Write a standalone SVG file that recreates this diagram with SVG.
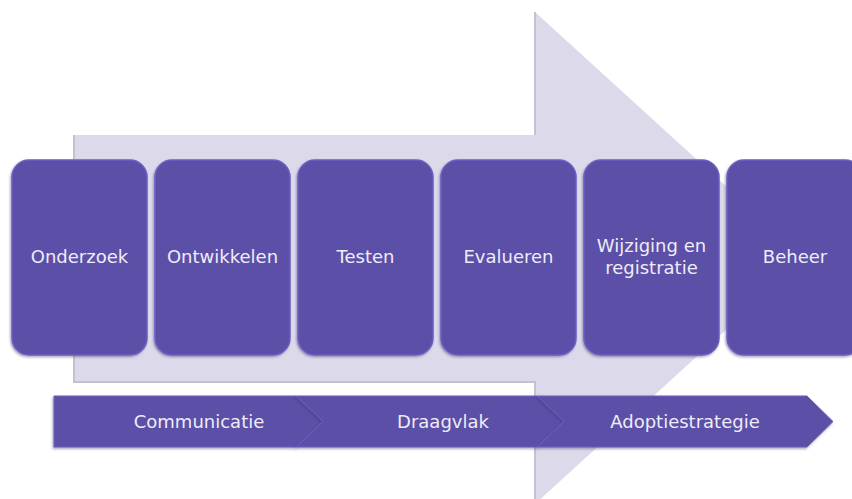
<svg xmlns="http://www.w3.org/2000/svg" width="852" height="499" viewBox="0 0 852 499">
  <style>
    .box { fill: #5c4fa8; stroke: #6b5fc2; stroke-width: 1.5; filter: url(#sh); }
    .chev { fill: #5c4fa8; stroke: #6b5fc2; stroke-width: 1; filter: url(#sh); }
    .lbl { font-family: "DejaVu Sans", "Liberation Sans", sans-serif; font-size: 18px; fill: #eeecf7; text-anchor: middle; }
  </style>
  <defs>
    <filter id="sh" x="-10%" y="-10%" width="120%" height="120%">
      <feDropShadow dx="-1" dy="1.5" stdDeviation="1.2" flood-color="#3a3070" flood-opacity="0.45"/>
    </filter>
  </defs>
  <rect width="852" height="499" fill="#ffffff"/>
  <g id="bigArrow">
    <polygon points="74,135 535,135 535,12 805,258 535,504 535,382 74,382" fill="#dcdaea"/>
    <polyline points="535,12 535,135" fill="none" stroke="#c4c2d0" stroke-width="2"/>
    <polyline points="74,135 74,382 535,382 535,504" fill="none" stroke="#c4c2d0" stroke-width="2"/>
  </g>
  <g id="n1"><rect class="box" x="12" y="160" width="135" height="195" rx="17"/><text class="lbl" x="79.5" y="263">Onderzoek</text></g>
  <g id="n2"><rect class="box" x="155" y="160" width="135" height="195" rx="17"/><text class="lbl" x="222.5" y="263">Ontwikkelen</text></g>
  <g id="n3"><rect class="box" x="298" y="160" width="135" height="195" rx="17"/><text class="lbl" x="365.5" y="263">Testen</text></g>
  <g id="n4"><rect class="box" x="441" y="160" width="135" height="195" rx="17"/><text class="lbl" x="508.5" y="263">Evalueren</text></g>
  <g id="n5"><rect class="box" x="584" y="160" width="135" height="195" rx="17"/><text class="lbl" x="651.5" y="252">Wijziging en</text><text class="lbl" x="651.5" y="274">registratie</text></g>
  <g id="n6"><rect class="box" x="727" y="160" width="135" height="195" rx="17"/><text class="lbl" x="795" y="263">Beheer</text></g>
  <g id="c1"><polygon class="chev" points="54,396 296,396 323,421.5 296,447 54,447"/><text class="lbl" x="199" y="428">Communicatie</text></g>
  <g id="c2"><polygon class="chev" points="296,396 537,396 564,421.5 537,447 296,447 323,421.5"/><text class="lbl" x="443" y="428">Draagvlak</text></g>
  <g id="c3"><polygon class="chev" points="537,396 807,396 833,421.5 807,447 537,447 564,421.5"/><text class="lbl" x="685" y="428">Adoptiestrategie</text></g>
  <g id="connectors"></g>
</svg>
